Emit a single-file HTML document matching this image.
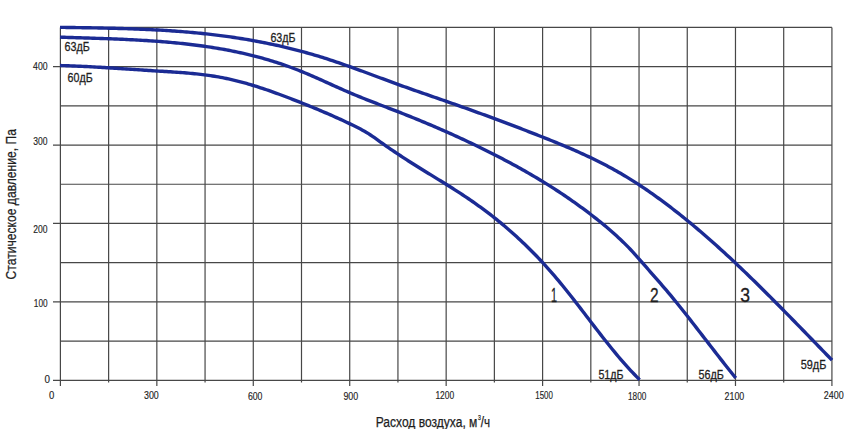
<!DOCTYPE html><html><head><meta charset="utf-8"><style>html,body{margin:0;padding:0;background:#fff;width:848px;height:429px;overflow:hidden}svg{display:block}text{font-family:"Liberation Sans",Arial,sans-serif;fill:#1e1e1e;stroke:#1e1e1e}.tk{stroke-width:0.15px}.db{stroke-width:0.3px}.nm{stroke-width:0.3px}.tt{stroke-width:0.25px}</style></head><body>
<svg width="848" height="429" viewBox="0 0 848 429">
<g stroke="#474747" stroke-width="1.2" fill="none"><line x1="60.40" y1="27.41" x2="60.40" y2="386.00"/><line x1="108.62" y1="27.41" x2="108.62" y2="382.60"/><line x1="156.84" y1="27.41" x2="156.84" y2="386.00"/><line x1="205.06" y1="27.41" x2="205.06" y2="382.60"/><line x1="253.28" y1="27.41" x2="253.28" y2="386.00"/><line x1="301.50" y1="27.41" x2="301.50" y2="382.60"/><line x1="349.72" y1="27.41" x2="349.72" y2="386.00"/><line x1="397.94" y1="27.41" x2="397.94" y2="382.60"/><line x1="446.16" y1="27.41" x2="446.16" y2="386.00"/><line x1="494.38" y1="27.41" x2="494.38" y2="382.60"/><line x1="542.60" y1="27.41" x2="542.60" y2="386.00"/><line x1="590.82" y1="27.41" x2="590.82" y2="382.60"/><line x1="639.04" y1="27.41" x2="639.04" y2="386.00"/><line x1="687.26" y1="27.41" x2="687.26" y2="382.60"/><line x1="735.48" y1="27.41" x2="735.48" y2="386.00"/><line x1="783.70" y1="27.41" x2="783.70" y2="382.60"/><line x1="831.92" y1="27.41" x2="831.92" y2="386.00"/><line x1="53.00" y1="380.30" x2="831.92" y2="380.30"/><line x1="60.40" y1="341.09" x2="831.92" y2="341.09"/><line x1="53.00" y1="301.88" x2="831.92" y2="301.88"/><line x1="60.40" y1="262.67" x2="831.92" y2="262.67"/><line x1="53.00" y1="223.46" x2="831.92" y2="223.46"/><line x1="60.40" y1="184.25" x2="831.92" y2="184.25"/><line x1="53.00" y1="145.04" x2="831.92" y2="145.04"/><line x1="60.40" y1="105.83" x2="831.92" y2="105.83"/><line x1="53.00" y1="66.62" x2="831.92" y2="66.62"/><line x1="60.40" y1="27.41" x2="831.92" y2="27.41"/></g>
<g stroke="#1b2b94" stroke-width="3.40" fill="none" stroke-linecap="butt" stroke-linejoin="round" transform="translate(0,-0.40)">
<path d="M60.00,27.75 L62.50,27.78 L64.50,27.81 L66.50,27.84 L68.50,27.87 L70.50,27.90 L72.50,27.93 L74.50,27.96 L76.50,27.99 L78.50,28.02 L80.50,28.05 L82.50,28.08 L84.50,28.11 L86.50,28.14 L88.50,28.18 L90.50,28.21 L92.50,28.25 L94.50,28.28 L96.50,28.32 L98.50,28.36 L100.50,28.40 L102.50,28.44 L104.50,28.48 L106.50,28.53 L108.50,28.58 L110.50,28.62 L112.50,28.67 L114.50,28.72 L116.50,28.78 L118.50,28.83 L120.50,28.89 L122.50,28.95 L124.50,29.01 L126.50,29.07 L128.50,29.14 L130.50,29.21 L132.50,29.28 L134.50,29.35 L136.50,29.43 L138.50,29.51 L140.50,29.59 L142.50,29.67 L144.50,29.76 L146.50,29.85 L148.50,29.94 L150.50,30.04 L152.50,30.14 L154.50,30.24 L156.50,30.35 L158.50,30.46 L160.50,30.57 L162.50,30.69 L164.50,30.81 L166.50,30.93 L168.50,31.06 L170.50,31.19 L172.50,31.33 L174.50,31.47 L176.50,31.61 L178.50,31.76 L180.50,31.91 L182.50,32.07 L184.50,32.23 L186.50,32.40 L188.50,32.57 L190.50,32.74 L192.50,32.92 L194.50,33.11 L196.50,33.30 L198.50,33.49 L200.50,33.69 L202.50,33.89 L204.50,34.10 L206.50,34.32 L208.50,34.54 L210.50,34.76 L212.50,35.00 L214.50,35.23 L216.50,35.47 L218.50,35.72 L220.50,35.98 L222.50,36.24 L224.50,36.50 L226.50,36.77 L228.50,37.05 L230.50,37.33 L232.50,37.62 L234.50,37.92 L236.50,38.22 L238.50,38.53 L240.50,38.85 L242.50,39.17 L244.50,39.50 L246.50,39.83 L248.50,40.17 L250.50,40.52 L252.50,40.88 L254.50,41.24 L256.50,41.61 L258.50,41.98 L260.50,42.36 L262.50,42.75 L264.50,43.15 L266.50,43.55 L268.50,43.96 L270.50,44.38 L272.50,44.80 L274.50,45.23 L276.50,45.67 L278.50,46.11 L280.50,46.57 L282.50,47.03 L284.50,47.50 L286.50,47.97 L288.50,48.45 L290.50,48.94 L292.50,49.44 L294.50,49.95 L296.50,50.46 L298.50,50.98 L300.50,51.51 L302.50,52.05 L304.50,52.59 L306.50,53.15 L308.50,53.71 L310.50,54.28 L312.50,54.85 L314.50,55.44 L316.50,56.03 L318.50,56.63 L320.50,57.24 L322.50,57.86 L324.50,58.49 L326.50,59.12 L328.50,59.76 L330.50,60.42 L332.50,61.08 L334.50,61.74 L336.50,62.42 L338.50,63.10 L340.50,63.79 L342.50,64.48 L344.50,65.18 L346.50,65.88 L348.50,66.59 L350.50,67.31 L352.50,68.03 L354.50,68.75 L356.50,69.48 L358.50,70.21 L360.50,70.94 L362.50,71.68 L364.50,72.42 L366.50,73.16 L368.50,73.90 L370.50,74.64 L372.50,75.39 L374.50,76.13 L376.50,76.88 L378.50,77.62 L380.50,78.37 L382.50,79.11 L384.50,79.86 L386.50,80.60 L388.50,81.34 L390.50,82.07 L392.50,82.81 L394.50,83.54 L396.50,84.27 L398.50,84.99 L400.50,85.72 L402.50,86.43 L404.50,87.15 L406.50,87.86 L408.50,88.57 L410.50,89.28 L412.50,89.98 L414.50,90.68 L416.50,91.38 L418.50,92.08 L420.50,92.77 L422.50,93.47 L424.50,94.16 L426.50,94.86 L428.50,95.55 L430.50,96.24 L432.50,96.93 L434.50,97.63 L436.50,98.32 L438.50,99.01 L440.50,99.71 L442.50,100.40 L444.50,101.10 L446.50,101.79 L448.50,102.49 L450.50,103.19 L452.50,103.90 L454.50,104.60 L456.50,105.31 L458.50,106.01 L460.50,106.72 L462.50,107.43 L464.50,108.15 L466.50,108.86 L468.50,109.58 L470.50,110.29 L472.50,111.01 L474.50,111.73 L476.50,112.46 L478.50,113.18 L480.50,113.91 L482.50,114.64 L484.50,115.37 L486.50,116.10 L488.50,116.84 L490.50,117.57 L492.50,118.31 L494.50,119.05 L496.50,119.79 L498.50,120.54 L500.50,121.28 L502.50,122.03 L504.50,122.78 L506.50,123.54 L508.50,124.29 L510.50,125.05 L512.50,125.80 L514.50,126.57 L516.50,127.33 L518.50,128.09 L520.50,128.86 L522.50,129.63 L524.50,130.40 L526.50,131.17 L528.50,131.95 L530.50,132.73 L532.50,133.51 L534.50,134.29 L536.50,135.07 L538.50,135.86 L540.50,136.65 L542.50,137.44 L544.50,138.24 L546.50,139.03 L548.50,139.83 L550.50,140.63 L552.50,141.44 L554.50,142.25 L556.50,143.07 L558.50,143.89 L560.50,144.71 L562.50,145.55 L564.50,146.38 L566.50,147.23 L568.50,148.08 L570.50,148.93 L572.50,149.80 L574.50,150.67 L576.50,151.55 L578.50,152.44 L580.50,153.34 L582.50,154.25 L584.50,155.16 L586.50,156.09 L588.50,157.03 L590.50,157.98 L592.50,158.94 L594.50,159.91 L596.50,160.89 L598.50,161.88 L600.50,162.89 L602.50,163.91 L604.50,164.94 L606.50,165.99 L608.50,167.05 L610.50,168.12 L612.50,169.21 L614.50,170.32 L616.50,171.44 L618.50,172.57 L620.50,173.72 L622.50,174.89 L624.50,176.07 L626.50,177.28 L628.50,178.49 L630.50,179.73 L632.50,180.98 L634.50,182.25 L636.50,183.53 L638.50,184.83 L640.50,186.15 L642.50,187.48 L644.50,188.82 L646.50,190.18 L648.50,191.56 L650.50,192.95 L652.50,194.35 L654.50,195.77 L656.50,197.20 L658.50,198.65 L660.50,200.11 L662.50,201.58 L664.50,203.07 L666.50,204.57 L668.50,206.08 L670.50,207.60 L672.50,209.14 L674.50,210.69 L676.50,212.26 L678.50,213.83 L680.50,215.42 L682.50,217.02 L684.50,218.64 L686.50,220.26 L688.50,221.90 L690.50,223.54 L692.50,225.20 L694.50,226.87 L696.50,228.56 L698.50,230.25 L700.50,231.96 L702.50,233.67 L704.50,235.40 L706.50,237.13 L708.50,238.88 L710.50,240.64 L712.50,242.41 L714.50,244.19 L716.50,245.98 L718.50,247.78 L720.50,249.59 L722.50,251.40 L724.50,253.23 L726.50,255.07 L728.50,256.92 L730.50,258.77 L732.50,260.64 L734.50,262.51 L736.50,264.40 L738.50,266.29 L740.50,268.19 L742.50,270.10 L744.50,272.02 L746.50,273.94 L748.50,275.87 L750.50,277.81 L752.50,279.76 L754.50,281.72 L756.50,283.68 L758.50,285.64 L760.50,287.62 L762.50,289.60 L764.50,291.58 L766.50,293.58 L768.50,295.57 L770.50,297.57 L772.50,299.58 L774.50,301.59 L776.50,303.61 L778.50,305.63 L780.50,307.65 L782.50,309.68 L784.50,311.72 L786.50,313.75 L788.50,315.79 L790.50,317.83 L792.50,319.88 L794.50,321.93 L796.50,323.98 L798.50,326.03 L800.50,328.08 L802.50,330.14 L804.50,332.19 L806.50,334.25 L808.50,336.31 L810.50,338.37 L812.50,340.43 L814.50,342.50 L816.50,344.56 L818.50,346.62 L820.50,348.68 L822.50,350.74 L824.50,352.80 L826.50,354.86 L828.50,356.92 L830.50,358.97 L831.20,359.69 L832.04,360.55"/>
<path d="M60.00,37.57 L62.50,37.64 L64.50,37.70 L66.50,37.77 L68.50,37.84 L70.50,37.90 L72.50,37.96 L74.50,38.03 L76.50,38.09 L78.50,38.15 L80.50,38.22 L82.50,38.28 L84.50,38.34 L86.50,38.41 L88.50,38.47 L90.50,38.53 L92.50,38.60 L94.50,38.66 L96.50,38.73 L98.50,38.79 L100.50,38.86 L102.50,38.93 L104.50,39.00 L106.50,39.07 L108.50,39.15 L110.50,39.22 L112.50,39.30 L114.50,39.37 L116.50,39.45 L118.50,39.54 L120.50,39.62 L122.50,39.71 L124.50,39.80 L126.50,39.89 L128.50,39.98 L130.50,40.08 L132.50,40.18 L134.50,40.28 L136.50,40.39 L138.50,40.50 L140.50,40.61 L142.50,40.73 L144.50,40.85 L146.50,40.97 L148.50,41.10 L150.50,41.23 L152.50,41.37 L154.50,41.50 L156.50,41.65 L158.50,41.80 L160.50,41.95 L162.50,42.11 L164.50,42.27 L166.50,42.44 L168.50,42.61 L170.50,42.79 L172.50,42.97 L174.50,43.16 L176.50,43.35 L178.50,43.55 L180.50,43.75 L182.50,43.96 L184.50,44.18 L186.50,44.40 L188.50,44.63 L190.50,44.87 L192.50,45.11 L194.50,45.35 L196.50,45.61 L198.50,45.87 L200.50,46.14 L202.50,46.41 L204.50,46.70 L206.50,46.98 L208.50,47.28 L210.50,47.59 L212.50,47.90 L214.50,48.22 L216.50,48.55 L218.50,48.88 L220.50,49.22 L222.50,49.58 L224.50,49.94 L226.50,50.31 L228.50,50.69 L230.50,51.07 L232.50,51.47 L234.50,51.88 L236.50,52.29 L238.50,52.72 L240.50,53.15 L242.50,53.60 L244.50,54.05 L246.50,54.52 L248.50,54.99 L250.50,55.48 L252.50,55.97 L254.50,56.48 L256.50,57.00 L258.50,57.53 L260.50,58.07 L262.50,58.62 L264.50,59.18 L266.50,59.76 L268.50,60.35 L270.50,60.95 L272.50,61.56 L274.50,62.18 L276.50,62.82 L278.50,63.47 L280.50,64.13 L282.50,64.80 L284.50,65.49 L286.50,66.19 L288.50,66.90 L290.50,67.63 L292.50,68.37 L294.50,69.13 L296.50,69.90 L298.50,70.68 L300.50,71.48 L302.50,72.29 L304.50,73.11 L306.50,73.95 L308.50,74.80 L310.50,75.65 L312.50,76.52 L314.50,77.40 L316.50,78.28 L318.50,79.17 L320.50,80.06 L322.50,80.96 L324.50,81.86 L326.50,82.76 L328.50,83.67 L330.50,84.57 L332.50,85.48 L334.50,86.38 L336.50,87.28 L338.50,88.18 L340.50,89.07 L342.50,89.96 L344.50,90.84 L346.50,91.71 L348.50,92.57 L350.50,93.43 L352.50,94.27 L354.50,95.10 L356.50,95.93 L358.50,96.75 L360.50,97.56 L362.50,98.36 L364.50,99.16 L366.50,99.95 L368.50,100.74 L370.50,101.52 L372.50,102.30 L374.50,103.08 L376.50,103.85 L378.50,104.62 L380.50,105.39 L382.50,106.15 L384.50,106.92 L386.50,107.68 L388.50,108.45 L390.50,109.22 L392.50,109.99 L394.50,110.76 L396.50,111.54 L398.50,112.31 L400.50,113.10 L402.50,113.88 L404.50,114.67 L406.50,115.47 L408.50,116.26 L410.50,117.07 L412.50,117.87 L414.50,118.68 L416.50,119.50 L418.50,120.32 L420.50,121.14 L422.50,121.97 L424.50,122.80 L426.50,123.64 L428.50,124.48 L430.50,125.33 L432.50,126.18 L434.50,127.04 L436.50,127.90 L438.50,128.76 L440.50,129.63 L442.50,130.51 L444.50,131.39 L446.50,132.27 L448.50,133.16 L450.50,134.06 L452.50,134.96 L454.50,135.86 L456.50,136.77 L458.50,137.69 L460.50,138.61 L462.50,139.53 L464.50,140.47 L466.50,141.40 L468.50,142.35 L470.50,143.29 L472.50,144.25 L474.50,145.21 L476.50,146.17 L478.50,147.14 L480.50,148.12 L482.50,149.10 L484.50,150.09 L486.50,151.08 L488.50,152.08 L490.50,153.09 L492.50,154.10 L494.50,155.12 L496.50,156.14 L498.50,157.17 L500.50,158.21 L502.50,159.25 L504.50,160.30 L506.50,161.36 L508.50,162.42 L510.50,163.49 L512.50,164.57 L514.50,165.66 L516.50,166.76 L518.50,167.86 L520.50,168.97 L522.50,170.09 L524.50,171.22 L526.50,172.36 L528.50,173.51 L530.50,174.66 L532.50,175.83 L534.50,177.01 L536.50,178.19 L538.50,179.39 L540.50,180.59 L542.50,181.81 L544.50,183.04 L546.50,184.28 L548.50,185.52 L550.50,186.78 L552.50,188.06 L554.50,189.34 L556.50,190.63 L558.50,191.94 L560.50,193.26 L562.50,194.59 L564.50,195.93 L566.50,197.29 L568.50,198.66 L570.50,200.04 L572.50,201.44 L574.50,202.85 L576.50,204.27 L578.50,205.71 L580.50,207.16 L582.50,208.62 L584.50,210.10 L586.50,211.59 L588.50,213.10 L590.50,214.63 L592.50,216.16 L594.50,217.72 L596.50,219.29 L598.50,220.87 L600.50,222.48 L602.50,224.10 L604.50,225.75 L606.50,227.42 L608.50,229.12 L610.50,230.84 L612.50,232.59 L614.50,234.37 L616.50,236.18 L618.50,238.03 L620.50,239.91 L622.50,241.83 L624.50,243.79 L626.50,245.79 L628.50,247.82 L630.50,249.91 L632.50,252.03 L634.50,254.21 L636.50,256.42 L638.50,258.66 L640.50,260.94 L642.50,263.23 L644.50,265.53 L646.50,267.84 L648.50,270.15 L650.50,272.45 L652.50,274.74 L654.50,277.03 L656.50,279.30 L658.50,281.58 L660.50,283.87 L662.50,286.17 L664.50,288.49 L666.50,290.83 L668.50,293.20 L670.50,295.60 L672.50,298.01 L674.50,300.45 L676.50,302.91 L678.50,305.38 L680.50,307.87 L682.50,310.37 L684.50,312.89 L686.50,315.43 L688.50,317.97 L690.50,320.52 L692.50,323.09 L694.50,325.66 L696.50,328.24 L698.50,330.82 L700.50,333.41 L702.50,336.00 L704.50,338.60 L706.50,341.19 L708.50,343.78 L710.50,346.37 L712.50,348.96 L714.50,351.55 L716.50,354.12 L718.50,356.69 L720.50,359.26 L722.50,361.81 L724.50,364.36 L726.50,366.89 L728.50,369.41 L730.50,371.91 L732.50,374.40 L734.50,376.87 L735.00,377.49 L735.76,378.42"/>
<path d="M60.00,65.96 L62.50,66.01 L64.50,66.07 L66.50,66.13 L68.50,66.20 L70.50,66.27 L72.50,66.34 L74.50,66.42 L76.50,66.50 L78.50,66.59 L80.50,66.67 L82.50,66.77 L84.50,66.86 L86.50,66.96 L88.50,67.06 L90.50,67.16 L92.50,67.27 L94.50,67.38 L96.50,67.49 L98.50,67.61 L100.50,67.72 L102.50,67.84 L104.50,67.96 L106.50,68.08 L108.50,68.21 L110.50,68.33 L112.50,68.46 L114.50,68.59 L116.50,68.72 L118.50,68.85 L120.50,68.98 L122.50,69.11 L124.50,69.24 L126.50,69.38 L128.50,69.51 L130.50,69.64 L132.50,69.78 L134.50,69.91 L136.50,70.05 L138.50,70.18 L140.50,70.31 L142.50,70.45 L144.50,70.58 L146.50,70.71 L148.50,70.84 L150.50,70.97 L152.50,71.10 L154.50,71.23 L156.50,71.35 L158.50,71.48 L160.50,71.60 L162.50,71.72 L164.50,71.85 L166.50,71.97 L168.50,72.10 L170.50,72.22 L172.50,72.35 L174.50,72.49 L176.50,72.62 L178.50,72.76 L180.50,72.91 L182.50,73.06 L184.50,73.21 L186.50,73.37 L188.50,73.54 L190.50,73.72 L192.50,73.91 L194.50,74.10 L196.50,74.31 L198.50,74.52 L200.50,74.75 L202.50,74.98 L204.50,75.23 L206.50,75.49 L208.50,75.76 L210.50,76.05 L212.50,76.35 L214.50,76.67 L216.50,77.00 L218.50,77.34 L220.50,77.71 L222.50,78.09 L224.50,78.49 L226.50,78.90 L228.50,79.33 L230.50,79.78 L232.50,80.24 L234.50,80.72 L236.50,81.21 L238.50,81.72 L240.50,82.24 L242.50,82.77 L244.50,83.32 L246.50,83.88 L248.50,84.46 L250.50,85.05 L252.50,85.65 L254.50,86.26 L256.50,86.88 L258.50,87.52 L260.50,88.16 L262.50,88.82 L264.50,89.48 L266.50,90.16 L268.50,90.85 L270.50,91.54 L272.50,92.25 L274.50,92.96 L276.50,93.68 L278.50,94.41 L280.50,95.14 L282.50,95.89 L284.50,96.64 L286.50,97.39 L288.50,98.16 L290.50,98.92 L292.50,99.70 L294.50,100.48 L296.50,101.26 L298.50,102.05 L300.50,102.84 L302.50,103.64 L304.50,104.44 L306.50,105.24 L308.50,106.05 L310.50,106.87 L312.50,107.69 L314.50,108.51 L316.50,109.34 L318.50,110.18 L320.50,111.02 L322.50,111.87 L324.50,112.72 L326.50,113.58 L328.50,114.45 L330.50,115.32 L332.50,116.21 L334.50,117.10 L336.50,117.99 L338.50,118.90 L340.50,119.81 L342.50,120.73 L344.50,121.66 L346.50,122.60 L348.50,123.54 L350.50,124.50 L352.50,125.47 L354.50,126.44 L356.50,127.43 L358.50,128.44 L360.50,129.47 L362.50,130.55 L364.50,131.67 L366.50,132.84 L368.50,134.07 L370.50,135.37 L372.50,136.72 L374.50,138.11 L376.50,139.53 L378.50,140.97 L380.50,142.41 L382.50,143.85 L384.50,145.27 L386.50,146.68 L388.50,148.08 L390.50,149.46 L392.50,150.82 L394.50,152.18 L396.50,153.52 L398.50,154.85 L400.50,156.18 L402.50,157.49 L404.50,158.79 L406.50,160.08 L408.50,161.36 L410.50,162.64 L412.50,163.90 L414.50,165.16 L416.50,166.42 L418.50,167.66 L420.50,168.91 L422.50,170.14 L424.50,171.38 L426.50,172.61 L428.50,173.84 L430.50,175.07 L432.50,176.29 L434.50,177.52 L436.50,178.75 L438.50,179.98 L440.50,181.21 L442.50,182.44 L444.50,183.68 L446.50,184.93 L448.50,186.18 L450.50,187.43 L452.50,188.70 L454.50,189.97 L456.50,191.25 L458.50,192.54 L460.50,193.84 L462.50,195.16 L464.50,196.48 L466.50,197.82 L468.50,199.17 L470.50,200.54 L472.50,201.92 L474.50,203.32 L476.50,204.73 L478.50,206.17 L480.50,207.61 L482.50,209.08 L484.50,210.56 L486.50,212.06 L488.50,213.58 L490.50,215.12 L492.50,216.67 L494.50,218.25 L496.50,219.84 L498.50,221.46 L500.50,223.09 L502.50,224.75 L504.50,226.43 L506.50,228.13 L508.50,229.85 L510.50,231.59 L512.50,233.36 L514.50,235.15 L516.50,236.96 L518.50,238.80 L520.50,240.66 L522.50,242.54 L524.50,244.45 L526.50,246.39 L528.50,248.35 L530.50,250.34 L532.50,252.35 L534.50,254.39 L536.50,256.45 L538.50,258.55 L540.50,260.67 L542.50,262.82 L544.50,265.00 L546.50,267.20 L548.50,269.44 L550.50,271.70 L552.50,274.00 L554.50,276.33 L556.50,278.68 L558.50,281.07 L560.50,283.48 L562.50,285.92 L564.50,288.39 L566.50,290.88 L568.50,293.39 L570.50,295.92 L572.50,298.47 L574.50,301.03 L576.50,303.60 L578.50,306.19 L580.50,308.78 L582.50,311.38 L584.50,313.99 L586.50,316.59 L588.50,319.20 L590.50,321.81 L592.50,324.42 L594.50,327.02 L596.50,329.61 L598.50,332.20 L600.50,334.77 L602.50,337.33 L604.50,339.88 L606.50,342.41 L608.50,344.92 L610.50,347.41 L612.50,349.88 L614.50,352.32 L616.50,354.74 L618.50,357.12 L620.50,359.48 L622.50,361.80 L624.50,364.09 L626.50,366.35 L628.50,368.56 L630.50,370.73 L632.50,372.86 L634.50,374.95 L636.50,376.99 L638.50,378.98 L638.80,379.27 L639.66,380.11"/>
</g>
<text class="tk" x="33.10" y="69.50" font-size="10.5" textLength="14.50" lengthAdjust="spacingAndGlyphs">400</text><text class="tk" x="33.30" y="144.80" font-size="10.5" textLength="14.30" lengthAdjust="spacingAndGlyphs">300</text><text class="tk" x="33.30" y="232.60" font-size="10.5" textLength="14.30" lengthAdjust="spacingAndGlyphs">200</text><text class="tk" x="33.80" y="306.60" font-size="10.5" textLength="13.80" lengthAdjust="spacingAndGlyphs">100</text><text class="tk" x="44.50" y="382.70" font-size="10.5" textLength="5.50" lengthAdjust="spacingAndGlyphs">0</text><text class="tk" x="49.00" y="398.90" font-size="10.5" textLength="5.30" lengthAdjust="spacingAndGlyphs">0</text><text class="tk" x="144.00" y="398.50" font-size="10.5" textLength="14.80" lengthAdjust="spacingAndGlyphs">300</text><text class="tk" x="247.90" y="399.50" font-size="10.5" textLength="14.60" lengthAdjust="spacingAndGlyphs">600</text><text class="tk" x="343.40" y="399.70" font-size="10.5" textLength="14.80" lengthAdjust="spacingAndGlyphs">900</text><text class="tk" x="435.40" y="398.80" font-size="10.5" textLength="18.80" lengthAdjust="spacingAndGlyphs">1200</text><text class="tk" x="535.30" y="398.80" font-size="10.5" textLength="17.60" lengthAdjust="spacingAndGlyphs">1500</text><text class="tk" x="628.00" y="399.50" font-size="10.5" textLength="18.30" lengthAdjust="spacingAndGlyphs">1800</text><text class="tk" x="724.60" y="399.50" font-size="10.5" textLength="19.70" lengthAdjust="spacingAndGlyphs">2100</text><text class="tk" x="823.80" y="398.50" font-size="10.5" textLength="19.90" lengthAdjust="spacingAndGlyphs">2400</text><text class="db" x="64.45" y="50.70" font-size="12.8" textLength="25.25" lengthAdjust="spacingAndGlyphs">63дБ</text><text class="db" x="67.60" y="81.70" font-size="12.8" textLength="25.10" lengthAdjust="spacingAndGlyphs">60дБ</text><text class="db" x="270.40" y="42.20" font-size="12.8" textLength="25.10" lengthAdjust="spacingAndGlyphs">63дБ</text><text class="db" x="598.40" y="378.70" font-size="12.8" textLength="25.10" lengthAdjust="spacingAndGlyphs">51дБ</text><text class="db" x="698.40" y="378.60" font-size="12.8" textLength="25.40" lengthAdjust="spacingAndGlyphs">56дБ</text><text class="db" x="800.70" y="368.80" font-size="12.8" textLength="25.60" lengthAdjust="spacingAndGlyphs">59дБ</text><text class="nm" x="551.10" y="301.70" font-size="19.5" textLength="6.00" lengthAdjust="spacingAndGlyphs">1</text><text class="nm" x="650.00" y="301.50" font-size="19.5" textLength="8.60" lengthAdjust="spacingAndGlyphs">2</text><text class="nm" x="740.20" y="301.70" font-size="19.5" textLength="9.80" lengthAdjust="spacingAndGlyphs">3</text><text class="tt" transform="translate(15.8,279.5) rotate(-90)" x="0" y="0" font-size="14" textLength="150.5" lengthAdjust="spacingAndGlyphs">Статическое давление, Па</text><text class="tt" x="375.7" y="427.2" font-size="14" textLength="101.7" lengthAdjust="spacingAndGlyphs">Расход воздуха, м</text><text class="tt" x="477.9" y="420.2" font-size="7" textLength="2.9" lengthAdjust="spacingAndGlyphs">3</text><text class="tt" x="480.8" y="427.2" font-size="14" textLength="9.3" lengthAdjust="spacingAndGlyphs">/ч</text>
</svg></body></html>
